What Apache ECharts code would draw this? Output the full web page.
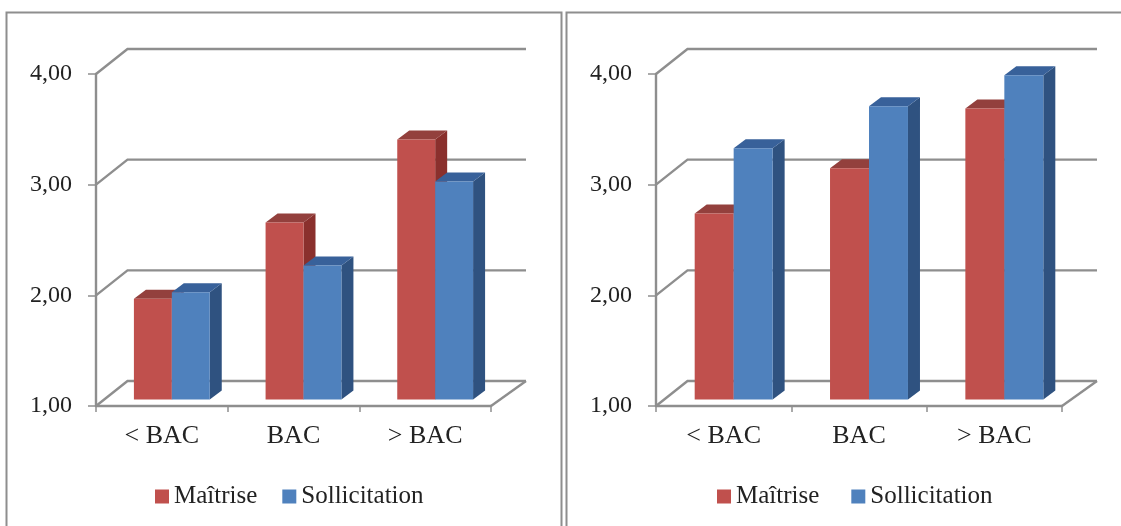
<!DOCTYPE html>
<html>
<head>
<meta charset="utf-8">
<style>html,body{margin:0;padding:0;background:#fff}#c{width:1121px;height:526px}</style>
<script src="https://cdn.jsdelivr.net/npm/echarts@6/dist/echarts.min.js"></script>
</head>
<body>
<div id="c"></div>
<script>
const categories = ['< BAC', 'BAC', '> BAC'];
const yTicks = [1, 2, 3, 4];
const leftMaitrise = [1.91, 2.60, 3.35];
const leftSollicitation = [1.97, 2.21, 2.97];
const rightMaitrise = [2.68, 3.09, 3.63];
const rightSollicitation = [3.27, 3.65, 3.93];

const GREY = '#8e8e8e', FONT = '"Liberation Serif", serif', INK = '#222';
const RED = {front: '#c0504d', top: '#93403d', side: '#8a302d'};
const BLUE = {front: '#4f81bd', top: '#38619a', side: '#2f5280'};

const chart = echarts.init(document.getElementById('c'), null, {renderer: 'canvas'});

function wallRender(params, api) {
  const cs = params.coordSys;
  const v = api.value(0);
  const y = api.coord([0, v])[1];
  const x0 = cs.x, x1 = cs.x + cs.width;
  const children = [{
    type: 'polyline',
    shape: {points: [[x0, y], [x0 + 31.5, y - 25], [x1 + 35, y - 25]]},
    style: {stroke: GREY, lineWidth: 2.4, fill: null}
  }];
  if (v === yTicks[0]) {
    children.push({
      type: 'line',
      shape: {x1: x1, y1: y, x2: x1 + 35, y2: y - 25},
      style: {stroke: GREY, lineWidth: 2.4}
    });
  }
  return {type: 'group', children};
}

function barRender(side, pal) {
  return function (params, api) {
    const i = params.dataIndex;
    const p = api.coord([i, api.value(0)]);
    const base = api.coord([i, yTicks[0]]);
    const w = api.size([1, 0])[0] * 0.288;
    const shift = 10, lift = 6.5, dx = 12, dy = 9;
    const cx = p[0] + shift;
    const l = side < 0 ? cx - w : cx, r = l + w;
    const t = p[1] - lift, b = base[1] - lift;
    return {
      type: 'group',
      children: [
        {type: 'polygon', shape: {points: [[r, t], [r + dx, t - dy], [r + dx, b - dy], [r, b]]}, style: {fill: pal.side}},
        {type: 'polygon', shape: {points: [[l, t], [l + dx, t - dy], [r + dx, t - dy], [r, t]]}, style: {fill: pal.top}},
        {type: 'rect', shape: {x: l, y: t, width: w, height: b - t}, style: {fill: pal.front}}
      ]
    };
  };
}

function wallSeries(idx) {
  return {
    type: 'custom', name: 'wall' + idx, xAxisIndex: idx, yAxisIndex: idx, z: 1, clip: false,
    silent: true, renderItem: wallRender, encode: {y: 0},
    data: yTicks.map(v => [v])
  };
}
function barSeries(idx, name, values, side, pal) {
  return {
    type: 'custom', name, xAxisIndex: idx, yAxisIndex: idx, z: 3, clip: false,
    renderItem: barRender(side, pal), encode: {y: 0},
    itemStyle: {color: pal.front},
    data: values.map(v => [v])
  };
}
function xAxis(idx) {
  return {
    type: 'category', gridIndex: idx, data: categories, boundaryGap: true,
    axisLine: {lineStyle: {color: GREY, width: 2.4}},
    axisTick: {show: true, alignWithLabel: false, length: 6, lineStyle: {color: GREY, width: 1.5}},
    axisLabel: {fontFamily: FONT, fontSize: 26, color: INK, margin: 17, interval: 0},
    splitLine: {show: false}
  };
}
function yAxis(idx) {
  return {
    type: 'value', gridIndex: idx, min: 1, max: 4, interval: 1,
    axisLine: {show: true, lineStyle: {color: GREY, width: 2.4}},
    axisTick: {show: true, length: 8, lineStyle: {color: GREY, width: 1.5}},
    axisLabel: {fontFamily: FONT, fontSize: 24, color: INK, margin: 24, padding: [4, 0, 0, 0],
      formatter: v => v.toFixed(2).replace('.', ',')},
    splitLine: {show: false}
  };
}
function legend(left, gap) {
  return {
    left, top: 484, itemWidth: 14, itemHeight: 14, itemGap: gap, icon: 'rect', padding: 0,
    data: ['Maîtrise', 'Sollicitation'], selectedMode: false,
    textStyle: {fontFamily: FONT, fontSize: 25, color: INK}
  };
}
function frame(points) {
  return {type: 'polyline', shape: {points}, style: {stroke: GREY, lineWidth: 2, fill: null}, silent: true};
}

chart.setOption({
  animation: false,
  backgroundColor: '#fff',
  grid: [
    {left: 96, top: 74, width: 395, height: 332},
    {left: 656, top: 74, width: 406, height: 332}
  ],
  xAxis: [xAxis(0), xAxis(1)],
  yAxis: [yAxis(0), yAxis(1)],
  legend: [legend(155, 25), legend(717, 32)],
  graphic: [
    frame([[6.5, 526], [6.5, 12.5], [561.5, 12.5], [561.5, 526]]),
    frame([[566.5, 526], [566.5, 12.5], [1121, 12.5]])
  ],
  series: [
    wallSeries(0),
    wallSeries(1),
    barSeries(0, 'Maîtrise', leftMaitrise, -1, RED),
    barSeries(0, 'Sollicitation', leftSollicitation, 1, BLUE),
    barSeries(1, 'Maîtrise', rightMaitrise, -1, RED),
    barSeries(1, 'Sollicitation', rightSollicitation, 1, BLUE)
  ]
});
</script>
</body>
</html>
